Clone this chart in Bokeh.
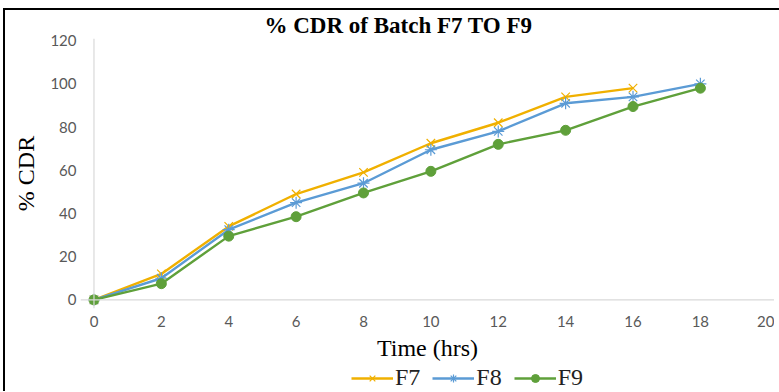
from bokeh.plotting import figure
from bokeh.models import Range1d, Span, Legend, LegendItem, FixedTicker
from bokeh.layouts import column
from bokeh.embed import file_html
from bokeh.resources import INLINE

time_hrs = [0, 2, 4, 6, 8, 10, 12, 14, 16, 18]
f7_time = [0, 2, 4, 6, 8, 10, 12, 14, 16]
f7 = [0, 12, 34, 49, 59, 72.5, 82, 94, 98]
f8 = [0, 10, 32.5, 45, 54, 69.5, 78, 91, 94, 100]
f9 = [0, 7.5, 29.5, 38.5, 49.5, 59.5, 72, 78.5, 89.5, 98]
x_ticks = [0, 2, 4, 6, 8, 10, 12, 14, 16, 18, 20]
y_ticks = [0, 20, 40, 60, 80, 100, 120]

C7, C8, C9 = "#F0B000", "#5B9BD5", "#5FA03A"
SERIF = "Liberation Serif"

p = figure(frame_width=694, frame_height=270, output_backend="svg", toolbar_location=None,
           x_range=Range1d(-0.4, 20.2), y_range=Range1d(-4, 121),
           min_border_left=75, min_border_right=0, min_border_top=28,
           min_border_bottom=0, title="% CDR of Batch F7 TO F9")
p.outline_line_color = None
p.background_fill_color = "white"
p.xgrid.visible = False
p.ygrid.visible = False

p.title.text_font = SERIF
p.title.text_font_size = "23px"
p.title.text_font_style = "bold"
p.title.text_color = "black"
p.title.align = "left"
p.title.offset = 184
p.title.standoff = 1

for ax in (p.xaxis[0], p.yaxis[0]):
    ax.axis_line_color = None
    ax.major_tick_line_color = None
    ax.minor_tick_line_color = None
    ax.major_tick_out = 0
    ax.major_tick_in = 0
    ax.minor_tick_out = 0
    ax.major_label_text_font = "Lato"
    ax.major_label_text_font_size = "15px"
    ax.major_label_text_color = "#595959"
    ax.axis_label_text_font = SERIF
    ax.axis_label_text_font_size = "24px"
    ax.axis_label_text_font_style = "normal"
    ax.axis_label_text_color = "black"

p.xaxis.ticker = FixedTicker(ticks=x_ticks)
p.yaxis.ticker = FixedTicker(ticks=y_ticks)
p.xaxis.major_label_standoff = 7
p.yaxis.major_label_standoff = 4
p.xaxis.axis_label = "Time (hrs)"
p.yaxis.axis_label = "% CDR"
p.xaxis.axis_label_standoff = 5
p.yaxis.axis_label_standoff = 8

p.add_layout(Span(location=0, dimension="width", line_color="#D9D9D9", line_width=1.2))
p.add_layout(Span(location=0, dimension="height", line_color="#D9D9D9", line_width=1.2))

p.line(f7_time, f7, line_color=C7, line_width=2.4)
p.scatter(f7_time, f7, marker="x", size=12, line_color=C7, line_width=1.2)
p.line(time_hrs, f8, line_color=C8, line_width=2.4)
p.scatter(time_hrs, f8, marker="asterisk", size=12, line_color=C8, line_width=1.2)
p.line(time_hrs, f9, line_color=C9, line_width=2.4)
p.scatter(time_hrs, f9, marker="circle", size=10, fill_color=C9, line_color=C9)

# legend strip below the chart (its proxy glyphs lie outside its own view)
lg = figure(width=774, height=28, output_backend="svg", toolbar_location=None,
            x_range=Range1d(-100, -99), y_range=Range1d(-1000, -999),
            x_axis_location=None, y_axis_location=None, min_border=0)
lg.outline_line_color = None
lg.xgrid.visible = False
lg.ygrid.visible = False
g7 = lg.line(f7_time, f7, line_color=C7, line_width=2.4)
s7 = lg.scatter(f7_time, f7, marker="x", size=12, line_color=C7, line_width=1.2)
g8 = lg.line(time_hrs, f8, line_color=C8, line_width=2.4)
s8 = lg.scatter(time_hrs, f8, marker="asterisk", size=12, line_color=C8, line_width=1.2)
g9 = lg.line(time_hrs, f9, line_color=C9, line_width=2.4)
s9 = lg.scatter(time_hrs, f9, marker="circle", size=10, fill_color=C9, line_color=C9)

legend = Legend(items=[LegendItem(label="F7", renderers=[g7, s7]),
                       LegendItem(label="F8", renderers=[g8, s8]),
                       LegendItem(label="F9", renderers=[g9, s9])],
                orientation="horizontal", location=(271, 0),
                label_text_font=SERIF, label_text_font_size="24px",
                label_text_color="#222222", glyph_width=42, glyph_height=20,
                label_height=20, label_standoff=2, spacing=12, padding=0, margin=0,
                border_line_color=None, background_fill_alpha=0)
lg.add_layout(legend, "center")

lay = column(p, lg, margin=(8, 0, 0, 3), spacing=0,
             styles={"border-top": "2.5px solid black", "border-left": "2.5px solid black"})

open("out.html", "w").write(file_html(lay, INLINE))
